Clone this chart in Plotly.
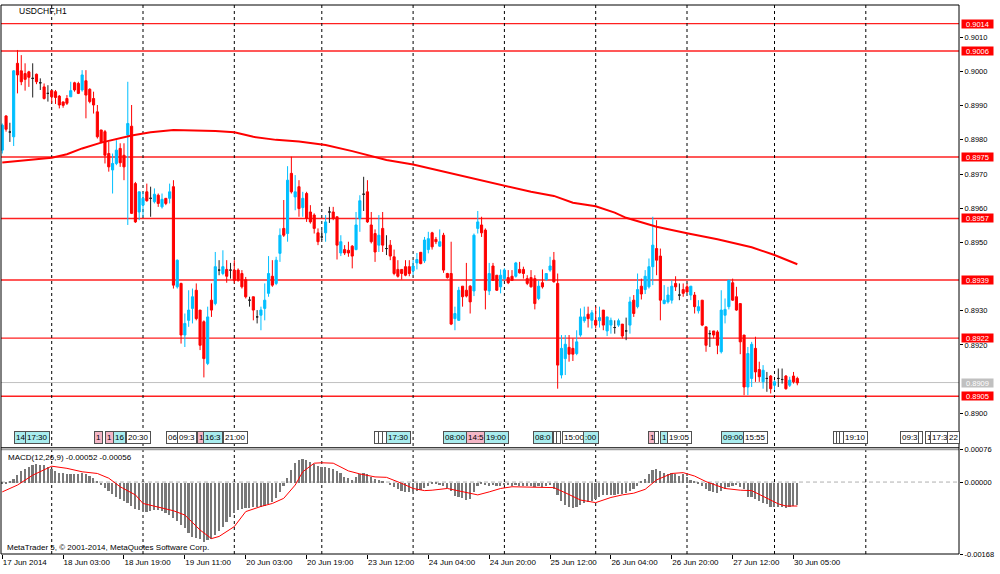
import plotly.graph_objects as go

symbol = "USDCHF,H1"

# hourly candles, 17 Jun 11:00 .. 30 Jun 06:00 (bar index = position on the time axis)
opens = [
    0.89770, 0.89870, 0.89823, 0.89809, 0.90024, 0.90002, 0.89994, 0.89999, 0.89980, 0.89992,
    0.89967, 0.89955, 0.89936, 0.89944, 0.89941, 0.89928, 0.89911, 0.89921, 0.89926, 0.89967,
    0.89965, 0.89946, 0.89973, 0.89948, 0.89921, 0.89882, 0.89829, 0.89824, 0.89760, 0.89712,
    0.89731, 0.89775, 0.89755, 0.89814, 0.89840, 0.89672, 0.89589, 0.89609, 0.89648, 0.89629,
    0.89619, 0.89638, 0.89604, 0.89629, 0.89629, 0.89663, 0.89370, 0.89380, 0.89229, 0.89272,
    0.89307, 0.89360, 0.89302, 0.89268, 0.89146, 0.89331, 0.89321, 0.89419, 0.89409, 0.89421,
    0.89419, 0.89419, 0.89419, 0.89409, 0.89391, 0.89331, 0.89341, 0.89282, 0.89287, 0.89307,
    0.89351, 0.89401, 0.89380, 0.89468, 0.89541, 0.89526, 0.89702, 0.89633, 0.89663, 0.89602,
    0.89643, 0.89589, 0.89580, 0.89528, 0.89516, 0.89528, 0.89589, 0.89589, 0.89575, 0.89469,
    0.89479, 0.89477, 0.89489, 0.89479, 0.89570, 0.89641, 0.89648, 0.89551, 0.89526, 0.89492,
    0.89541, 0.89482, 0.89492, 0.89458, 0.89421, 0.89421, 0.89429, 0.89429, 0.89417, 0.89440,
    0.89471, 0.89446, 0.89479, 0.89528, 0.89509, 0.89489, 0.89521, 0.89409, 0.89409, 0.89277,
    0.89272, 0.89372, 0.89360, 0.89372, 0.89358, 0.89541, 0.89551, 0.89536, 0.89358, 0.89431,
    0.89404, 0.89370, 0.89394, 0.89397, 0.89401, 0.89401, 0.89421, 0.89421, 0.89394, 0.89397,
    0.89394, 0.89336, 0.89382, 0.89391, 0.89419, 0.89448, 0.89380, 0.89112, 0.89160, 0.89193,
    0.89190, 0.89175, 0.89229, 0.89271, 0.89290, 0.89272, 0.89272, 0.89271, 0.89302, 0.89241,
    0.89258, 0.89251, 0.89258, 0.89261, 0.89241, 0.89258, 0.89331, 0.89312, 0.89372, 0.89362,
    0.89370, 0.89429, 0.89482, 0.89460, 0.89321, 0.89326, 0.89331, 0.89380, 0.89346, 0.89362,
    0.89370, 0.89346, 0.89346, 0.89300, 0.89331, 0.89253, 0.89233, 0.89241, 0.89238, 0.89180,
    0.89287, 0.89312, 0.89382, 0.89341, 0.89321, 0.89229, 0.89077, 0.89102, 0.89190, 0.89128,
    0.89092, 0.89102, 0.89109, 0.89082, 0.89102, 0.89099, 0.89109, 0.89082, 0.89109, 0.89102,
]
highs = [
    0.89848, 0.89872, 0.89850, 0.90004, 0.90063, 0.90048, 0.90024, 0.90002, 0.90024, 0.89994,
    0.89980, 0.89965, 0.89960, 0.89946, 0.89946, 0.89931, 0.89912, 0.89931, 0.89970, 0.89970,
    0.89970, 0.90004, 0.90004, 0.89951, 0.89941, 0.89902, 0.89829, 0.89829, 0.89794, 0.89760,
    0.89799, 0.89790, 0.89790, 0.89970, 0.89902, 0.89677, 0.89648, 0.89648, 0.89672, 0.89663,
    0.89658, 0.89643, 0.89643, 0.89629, 0.89672, 0.89682, 0.89450, 0.89382, 0.89292, 0.89360,
    0.89365, 0.89380, 0.89302, 0.89272, 0.89312, 0.89380, 0.89472, 0.89448, 0.89477, 0.89448,
    0.89440, 0.89448, 0.89424, 0.89419, 0.89399, 0.89341, 0.89341, 0.89302, 0.89312, 0.89380,
    0.89460, 0.89448, 0.89458, 0.89541, 0.89624, 0.89723, 0.89751, 0.89697, 0.89682, 0.89648,
    0.89648, 0.89609, 0.89585, 0.89541, 0.89536, 0.89580, 0.89604, 0.89604, 0.89575, 0.89521,
    0.89492, 0.89502, 0.89492, 0.89589, 0.89638, 0.89692, 0.89682, 0.89589, 0.89538, 0.89580,
    0.89589, 0.89521, 0.89507, 0.89479, 0.89448, 0.89421, 0.89448, 0.89448, 0.89448, 0.89469,
    0.89472, 0.89516, 0.89531, 0.89531, 0.89516, 0.89538, 0.89528, 0.89411, 0.89502, 0.89312,
    0.89370, 0.89372, 0.89440, 0.89375, 0.89526, 0.89592, 0.89575, 0.89541, 0.89440, 0.89440,
    0.89404, 0.89421, 0.89424, 0.89419, 0.89419, 0.89443, 0.89443, 0.89429, 0.89404, 0.89419,
    0.89404, 0.89388, 0.89421, 0.89409, 0.89458, 0.89472, 0.89409, 0.89229, 0.89229, 0.89229,
    0.89219, 0.89243, 0.89307, 0.89312, 0.89312, 0.89302, 0.89312, 0.89312, 0.89302, 0.89282,
    0.89280, 0.89272, 0.89277, 0.89261, 0.89280, 0.89341, 0.89346, 0.89409, 0.89394, 0.89419,
    0.89453, 0.89575, 0.89565, 0.89482, 0.89375, 0.89370, 0.89389, 0.89401, 0.89380, 0.89380,
    0.89380, 0.89372, 0.89355, 0.89331, 0.89331, 0.89253, 0.89243, 0.89241, 0.89243, 0.89360,
    0.89336, 0.89391, 0.89394, 0.89370, 0.89321, 0.89229, 0.89194, 0.89209, 0.89224, 0.89151,
    0.89141, 0.89121, 0.89112, 0.89097, 0.89131, 0.89131, 0.89112, 0.89107, 0.89121, 0.89107,
]
lows = [
    0.89760, 0.89824, 0.89794, 0.89782, 0.89936, 0.89960, 0.89944, 0.89955, 0.89924, 0.89963,
    0.89946, 0.89918, 0.89912, 0.89907, 0.89905, 0.89892, 0.89894, 0.89902, 0.89926, 0.89941,
    0.89934, 0.89941, 0.89863, 0.89907, 0.89877, 0.89804, 0.89790, 0.89731, 0.89707, 0.89643,
    0.89726, 0.89721, 0.89682, 0.89551, 0.89583, 0.89557, 0.89565, 0.89575, 0.89619, 0.89575,
    0.89614, 0.89604, 0.89599, 0.89609, 0.89614, 0.89365, 0.89365, 0.89204, 0.89194, 0.89253,
    0.89263, 0.89272, 0.89185, 0.89105, 0.89141, 0.89282, 0.89316, 0.89404, 0.89404, 0.89382,
    0.89394, 0.89380, 0.89385, 0.89365, 0.89336, 0.89312, 0.89272, 0.89263, 0.89243, 0.89272,
    0.89341, 0.89370, 0.89375, 0.89443, 0.89516, 0.89502, 0.89643, 0.89594, 0.89575, 0.89575,
    0.89560, 0.89555, 0.89526, 0.89492, 0.89507, 0.89502, 0.89557, 0.89565, 0.89450, 0.89460,
    0.89463, 0.89458, 0.89424, 0.89477, 0.89531, 0.89592, 0.89557, 0.89497, 0.89443, 0.89472,
    0.89472, 0.89463, 0.89448, 0.89404, 0.89397, 0.89391, 0.89401, 0.89401, 0.89404, 0.89421,
    0.89436, 0.89440, 0.89468, 0.89479, 0.89495, 0.89487, 0.89411, 0.89394, 0.89258, 0.89243,
    0.89271, 0.89312, 0.89339, 0.89292, 0.89343, 0.89526, 0.89516, 0.89304, 0.89346, 0.89388,
    0.89358, 0.89351, 0.89389, 0.89378, 0.89388, 0.89397, 0.89409, 0.89394, 0.89375, 0.89368,
    0.89304, 0.89331, 0.89365, 0.89388, 0.89414, 0.89382, 0.89072, 0.89102, 0.89112, 0.89151,
    0.89153, 0.89170, 0.89224, 0.89265, 0.89251, 0.89248, 0.89248, 0.89251, 0.89243, 0.89226,
    0.89233, 0.89233, 0.89253, 0.89219, 0.89214, 0.89233, 0.89282, 0.89307, 0.89333, 0.89349,
    0.89365, 0.89375, 0.89404, 0.89272, 0.89319, 0.89321, 0.89321, 0.89358, 0.89331, 0.89341,
    0.89352, 0.89331, 0.89292, 0.89292, 0.89255, 0.89180, 0.89194, 0.89219, 0.89173, 0.89175,
    0.89263, 0.89304, 0.89329, 0.89300, 0.89173, 0.89053, 0.89053, 0.89077, 0.89092, 0.89092,
    0.89072, 0.89063, 0.89058, 0.89068, 0.89077, 0.89087, 0.89069, 0.89077, 0.89087, 0.89082,
]
closes = [
    0.89843, 0.89831, 0.89823, 0.90002, 0.89990, 0.89970, 0.89977, 0.89983, 0.89980, 0.89970,
    0.89967, 0.89921, 0.89936, 0.89926, 0.89924, 0.89902, 0.89901, 0.89907, 0.89944, 0.89946,
    0.89936, 0.89990, 0.89931, 0.89912, 0.89902, 0.89809, 0.89794, 0.89755, 0.89721, 0.89731,
    0.89770, 0.89733, 0.89721, 0.89848, 0.89585, 0.89560, 0.89648, 0.89629, 0.89622, 0.89629,
    0.89641, 0.89614, 0.89626, 0.89614, 0.89648, 0.89375, 0.89448, 0.89229, 0.89263, 0.89302,
    0.89341, 0.89277, 0.89199, 0.89160, 0.89282, 0.89302, 0.89429, 0.89419, 0.89429, 0.89401,
    0.89419, 0.89389, 0.89389, 0.89370, 0.89341, 0.89331, 0.89302, 0.89282, 0.89302, 0.89331,
    0.89409, 0.89375, 0.89448, 0.89521, 0.89521, 0.89682, 0.89648, 0.89648, 0.89599, 0.89629,
    0.89570, 0.89560, 0.89541, 0.89502, 0.89516, 0.89560, 0.89589, 0.89570, 0.89492, 0.89502,
    0.89469, 0.89469, 0.89460, 0.89551, 0.89622, 0.89641, 0.89560, 0.89502, 0.89472, 0.89521,
    0.89492, 0.89482, 0.89460, 0.89409, 0.89401, 0.89409, 0.89404, 0.89409, 0.89431, 0.89450,
    0.89438, 0.89507, 0.89511, 0.89487, 0.89502, 0.89502, 0.89419, 0.89397, 0.89261, 0.89292,
    0.89360, 0.89341, 0.89343, 0.89326, 0.89521, 0.89560, 0.89528, 0.89360, 0.89409, 0.89389,
    0.89360, 0.89404, 0.89419, 0.89382, 0.89389, 0.89440, 0.89411, 0.89409, 0.89380, 0.89370,
    0.89321, 0.89372, 0.89370, 0.89409, 0.89431, 0.89385, 0.89141, 0.89190, 0.89202, 0.89173,
    0.89173, 0.89209, 0.89282, 0.89282, 0.89277, 0.89294, 0.89258, 0.89280, 0.89258, 0.89282,
    0.89272, 0.89251, 0.89271, 0.89226, 0.89241, 0.89326, 0.89292, 0.89362, 0.89349, 0.89401,
    0.89429, 0.89492, 0.89448, 0.89331, 0.89331, 0.89346, 0.89372, 0.89370, 0.89346, 0.89351,
    0.89355, 0.89372, 0.89312, 0.89312, 0.89258, 0.89199, 0.89233, 0.89229, 0.89199, 0.89302,
    0.89304, 0.89389, 0.89331, 0.89302, 0.89209, 0.89077, 0.89175, 0.89202, 0.89121, 0.89107,
    0.89126, 0.89102, 0.89072, 0.89092, 0.89102, 0.89099, 0.89072, 0.89097, 0.89092, 0.89089,
]
bars = list(range(len(closes)))

# time axis labels, every 16 bars
tick_bars = [0, 16, 32, 48, 64, 80, 96, 112, 128, 144, 160, 176, 192, 208]
tick_text = ["17 Jun 2014", "18 Jun 03:00", "18 Jun 19:00", "19 Jun 11:00", "20 Jun 03:00",
             "20 Jun 19:00", "23 Jun 12:00", "24 Jun 04:00", "24 Jun 20:00", "25 Jun 12:00",
             "26 Jun 04:00", "26 Jun 20:00", "27 Jun 12:00", "30 Jun 05:00"]
# midnight bars (period separators)
day_breaks = [13, 37, 61, 84, 108, 132, 156, 180, 203, 227]

# price scale labels that MT5 shows (0.8910 and 0.8940 sit under the price tags)
price_ticks = [0.8900, 0.8920, 0.8930, 0.8950, 0.8960, 0.8970, 0.8980, 0.8990, 0.9000, 0.9010]

# moving average, read at a few bars
ma_bars = [0, 13, 17, 21, 26, 34, 39, 45, 56, 61, 66, 72, 78, 85, 92, 101, 108, 118, 126, 132,
           139, 145, 150, 156, 161, 164, 168, 172, 180, 188, 197, 203, 209]
ma_values = [0.89734, 0.89748, 0.89758, 0.89775, 0.89792, 0.89813, 0.89822, 0.89829, 0.89826,
             0.89822, 0.89809, 0.89800, 0.89795, 0.89785, 0.89767, 0.89741, 0.89728, 0.89702,
             0.89680, 0.89666, 0.89648, 0.89636, 0.89616, 0.89606, 0.89587, 0.89572, 0.89560,
             0.89546, 0.89527, 0.89509, 0.89486, 0.89463, 0.89436]

levels = [0.9014, 0.9006, 0.8975, 0.8957, 0.8939, 0.8922, 0.8905]
bid = 0.8909

# MACD(12,26,9) main histogram
macd_main = [
    -0.00002, -0.00003, 0.00002, 0.00009, 0.00018, 0.00026, 0.00032, 0.00037, 0.00041, 0.00043,
    0.00041, 0.00040, 0.00036, 0.00031, 0.00026, 0.00023, 0.00022, 0.00020, 0.00020, 0.00020,
    0.00020, 0.00022, 0.00020, 0.00016, 0.00011, 0.00003, -0.00005, -0.00013, -0.00020, -0.00026,
    -0.00033, -0.00039, -0.00044, -0.00047, -0.00054, -0.00061, -0.00065, -0.00067, -0.00068, -0.00067,
    -0.00065, -0.00065, -0.00067, -0.00070, -0.00075, -0.00082, -0.00090, -0.00098, -0.00106, -0.00118,
    -0.00126, -0.00129, -0.00132, -0.00138, -0.00135, -0.00131, -0.00123, -0.00112, -0.00103, -0.00092,
    -0.00081, -0.00072, -0.00065, -0.00061, -0.00059, -0.00059, -0.00057, -0.00057, -0.00056, -0.00054,
    -0.00050, -0.00045, -0.00037, -0.00023, -0.00007, 0.00011, 0.00030, 0.00045, 0.00052, 0.00055,
    0.00053, 0.00049, 0.00044, 0.00038, 0.00036, 0.00036, 0.00034, 0.00031, 0.00026, 0.00022,
    0.00014, 0.00010, 0.00007, 0.00014, 0.00020, 0.00023, 0.00019, 0.00014, 0.00009, 0.00006,
    0.00004, 0.00000, -0.00005, -0.00010, -0.00015, -0.00019, -0.00021, -0.00023, -0.00022, -0.00020,
    -0.00017, -0.00012, -0.00007, -0.00004, -0.00002, -0.00005, -0.00008, -0.00012, -0.00020, -0.00031,
    -0.00034, -0.00037, -0.00040, -0.00039, -0.00023, -0.00008, -0.00003, -0.00005, -0.00007, -0.00005,
    -0.00007, -0.00009, -0.00005, -0.00005, -0.00007, -0.00005, -0.00007, -0.00008, -0.00008, -0.00009,
    -0.00011, -0.00009, -0.00010, -0.00008, -0.00006, -0.00015, -0.00030, -0.00042, -0.00052, -0.00057,
    -0.00059, -0.00056, -0.00053, -0.00047, -0.00046, -0.00042, -0.00039, -0.00033, -0.00029, -0.00028,
    -0.00028, -0.00028, -0.00027, -0.00027, -0.00025, -0.00020, -0.00015, -0.00007, 0.00002, 0.00009,
    0.00020, 0.00030, 0.00031, 0.00026, 0.00023, 0.00020, 0.00022, 0.00020, 0.00016, 0.00019,
    0.00012, 0.00006, 0.00002, -0.00003, -0.00008, -0.00016, -0.00019, -0.00021, -0.00025, -0.00020,
    -0.00015, -0.00011, -0.00008, -0.00005, -0.00011, -0.00016, -0.00033, -0.00034, -0.00038, -0.00042,
    -0.00047, -0.00051, -0.00057, -0.00057, -0.00056, -0.00057, -0.00059, -0.00056, -0.00054, -0.00052,
]
# MACD signal line, read at a few bars
signal_bars = [0, 4, 8, 13, 17, 21, 25, 28, 31, 35, 37, 41, 45, 48, 52, 55, 57, 61, 64, 68,
               71, 74, 77, 79, 82, 84, 87, 91, 94, 98, 101, 105, 108, 111, 113, 117, 120, 125,
               128, 131, 134, 145, 148, 152, 156, 160, 163, 166, 169, 172, 176, 179, 182, 185,
               190, 194, 197, 200, 204, 206, 209]
signal_values = [
    -0.00023, -0.00007, 0.00016, 0.00037, 0.00032, 0.00024, 0.00020, 0.00009, -0.00011, -0.00030,
    -0.00050, -0.00059, -0.00067, -0.00077, -0.00112, -0.00132, -0.00127, -0.00104, -0.00069, -0.00057,
    -0.00050, -0.00038, -0.00007, 0.00024, 0.00044, 0.00045, 0.00044, 0.00026, 0.00019, 0.00012,
    0.00011, -0.00003, -0.00015, -0.00020, -0.00019, -0.00015, -0.00020, -0.00030, -0.00023, -0.00015,
    -0.00011, -0.00013, -0.00025, -0.00042, -0.00048, -0.00036, -0.00030, -0.00026, -0.00017, 0.00005,
    0.00020, 0.00022, 0.00014, 0.00001, -0.00015, -0.00019, -0.00020, -0.00034, -0.00051, -0.00056,
    -0.00056,
]
macd_top, macd_bottom = 0.00076, -0.00168

# economic calendar marks along the bottom of the price window
event_bars = [3.1, 6.0, 24.1, 27.0, 29.1, 32.5, 43.0, 45.9, 51.2, 52.8, 58.0, 97.7, 98.8, 99.8,
              100.9, 115.9, 121.9, 126.6, 139.5, 144.8, 145.6, 147.1, 152.7, 169.8, 171.3, 172.9,
              174.7, 189.0, 194.7, 218.4, 219.2, 220.0, 221.0, 236.0, 240.7, 242.6, 243.9, 248.4]
event_text = ["14", "17:30", "1", "1", "16", "20:30", "06", "09:3", "1", "16:3", "21:00", "", "", "",
              "17:30", "08:00", "14:5", "19:00", "08:0", "", "", "15:00", ":00", "1", "", "1",
              "19:05", "09:00", "15:55", "", "", "", "19:10", "09:3", "", "1", "17:3", "22"]
event_kind = ["c", "c", "p", "p", "c", "w", "w", "w", "p", "c", "w", "w", "w", "w",
              "c", "c", "p", "c", "c", "w", "w", "w", "c", "p", "w", "c",
              "w", "c", "w", "w", "w", "w", "w", "w", "w", "w", "w", "w"]

BULL = "#00BFFF"
BEAR = "#FF0000"
FONT = "Liberation Sans"
kind_color = {"c": "#A8ECEE", "p": "#F4B6C6", "w": "#FFFFFF"}

# plot area runs from y=5 to y=554 px; helper for paper coordinates
TOP, BOTTOM = 5, 554
def py(pix):
    return (BOTTOM - pix) / (BOTTOM - TOP)

price_dom = [py(448), 1]
macd_dom = [0, py(449.5)]

fig = go.Figure()

body = [i for i in bars if opens[i] != closes[i]]
doji = [i for i in bars if opens[i] == closes[i]]

fig.add_trace(go.Candlestick(
    x=body,
    open=[opens[i] for i in body], high=[highs[i] for i in body],
    low=[lows[i] for i in body], close=[closes[i] for i in body],
    increasing=dict(line=dict(color=BULL, width=1), fillcolor=BULL),
    decreasing=dict(line=dict(color=BEAR, width=1), fillcolor=BEAR),
    whiskerwidth=0, hoverinfo="skip", showlegend=False, xaxis="x", yaxis="y",
))
fig.add_trace(go.Candlestick(
    x=doji,
    open=[opens[i] for i in doji], high=[highs[i] for i in doji],
    low=[lows[i] for i in doji], close=[closes[i] for i in doji],
    increasing=dict(line=dict(color="#202020", width=1), fillcolor="#202020"),
    decreasing=dict(line=dict(color="#202020", width=1), fillcolor="#202020"),
    whiskerwidth=0, hoverinfo="skip", showlegend=False, xaxis="x", yaxis="y",
))
fig.add_trace(go.Scatter(
    x=ma_bars, y=ma_values, mode="lines", line=dict(color="#FF0000", width=2),
    hoverinfo="skip", showlegend=False, xaxis="x", yaxis="y",
))

fig.add_trace(go.Bar(
    x=bars, y=macd_main, width=0.45, marker=dict(color="#787878", line=dict(width=0)),
    hoverinfo="skip", showlegend=False, xaxis="x", yaxis="y2",
))
fig.add_trace(go.Scatter(
    x=signal_bars, y=signal_values, mode="lines", line=dict(color="#FF0000", width=1),
    hoverinfo="skip", showlegend=False, xaxis="x", yaxis="y2",
))

shapes = []
# zero line of the MACD window, drawn under the bars
shapes.append(dict(type="line", xref="paper", x0=0, x1=1, yref="y2", y0=0, y1=0,
                   line=dict(color="#B0B0B0", width=1, dash="4px,3px"), layer="below"))
for lv in levels:
    shapes.append(dict(type="line", xref="paper", x0=0, x1=1, yref="y", y0=lv, y1=lv,
                       line=dict(color="#FF2020", width=1.4), layer="below"))
shapes.append(dict(type="line", xref="paper", x0=0, x1=1, yref="y", y0=bid, y1=bid,
                   line=dict(color="#C0C0C0", width=1), layer="below"))
for d in day_breaks:
    shapes.append(dict(type="line", xref="x", x0=d, x1=d, yref="paper", y0=0, y1=1,
                       line=dict(color="#000000", width=1, dash="3px,3px"), layer="below"))
# window separator and frame
shapes.append(dict(type="line", xref="paper", x0=0, x1=1, yref="paper", y0=py(447.5), y1=py(447.5),
                   line=dict(color="#404040", width=1)))
shapes.append(dict(type="line", xref="paper", x0=0, x1=1, yref="paper", y0=py(449.2), y1=py(449.2),
                   line=dict(color="#A0A0A0", width=2)))
shapes.append(dict(type="rect", xref="paper", x0=0, x1=1, yref="paper", y0=0, y1=1,
                   line=dict(color="#000000", width=1)))

ann = []
ann.append(dict(text=symbol, xref="paper", x=0.0165, yref="paper", y=py(10.5),
                xanchor="left", yanchor="middle", showarrow=False,
                font=dict(family=FONT, size=8.5, color="#000000")))
ann.append(dict(text="MACD(12,26,9) -0.00052 -0.00056", xref="paper", x=0.005, yref="paper",
                y=py(457.5), xanchor="left", yanchor="middle", showarrow=False,
                font=dict(family=FONT, size=8, color="#000000")))
ann.append(dict(text="MetaTrader 5, © 2001-2014, MetaQuotes Software Corp.", xref="paper",
                x=0.004, yref="paper", y=py(547), xanchor="left", yanchor="middle",
                showarrow=False, font=dict(family=FONT, size=8, color="#000000")))
for lv in levels:
    ann.append(dict(text=f"{lv:.4f}", xref="paper", x=1, xshift=2, yref="y", y=lv,
                    xanchor="left", yanchor="middle", showarrow=False, bgcolor="#FF0000",
                    borderpad=0, height=8, width=31,
                    font=dict(family=FONT, size=7.5, color="#FFFFFF")))
ann.append(dict(text=f"{bid:.4f}", xref="paper", x=1, xshift=2, yref="y", y=bid,
                xanchor="left", yanchor="middle", showarrow=False, bgcolor="#C0C0C0",
                borderpad=0, height=8, width=31,
                font=dict(family=FONT, size=7.5, color="#FFFFFF")))
for b, t, k in zip(event_bars, event_text, event_kind):
    a = dict(text=t if t else " ", xref="x", x=b, yref="y domain", y=0.024,
             xanchor="left", yanchor="middle", showarrow=False,
             bgcolor=kind_color[k], bordercolor="#505050", borderwidth=1, borderpad=1,
             font=dict(family=FONT, size=8, color="#000000"))
    if not t:
        a["width"] = 1
    ann.append(a)

fig.update_layout(
    width=1000, height=574,
    margin=dict(l=1, r=41, t=TOP, b=574 - BOTTOM),
    paper_bgcolor="#FFFFFF", plot_bgcolor="#FFFFFF",
    font=dict(family=FONT, size=8, color="#000000"),
    showlegend=False, bargap=0, boxgap=0.2,
    xaxis=dict(
        range=[-0.33, 251.5], anchor="y2", showgrid=False, zeroline=False,
        tickmode="array", tickvals=tick_bars, ticktext=tick_text,
        ticks="outside", ticklen=4, tickcolor="#000000",
        ticklabelposition="outside right",
        tickfont=dict(family=FONT, size=8, color="#000000"),
        rangeslider=dict(visible=False), fixedrange=True,
    ),
    yaxis=dict(
        domain=price_dom, anchor="x", side="right", range=[0.888985, 0.901946],
        showgrid=False, zeroline=False, tickmode="array",
        tickvals=price_ticks, tickformat=".4f",
        ticks="outside", ticklen=3, tickcolor="#000000",
        tickfont=dict(family=FONT, size=7.5, color="#000000"),
    ),
    yaxis2=dict(
        domain=macd_dom, anchor="x", side="right", range=[macd_bottom, macd_top],
        showgrid=False, zeroline=False, tickmode="array",
        tickvals=[macd_top, 0, macd_bottom], ticktext=["0.00076", "0.00000", "-0.00168"],
        ticks="outside", ticklen=3, tickcolor="#000000",
        tickfont=dict(family=FONT, size=7.5, color="#000000"),
    ),
    shapes=shapes, annotations=ann,
)

# the page must start at the window's top-left corner, like the terminal screenshot
fig.write_html("out.html", config={"displayModeBar": False},
               post_script="document.body.style.margin='0px';")
